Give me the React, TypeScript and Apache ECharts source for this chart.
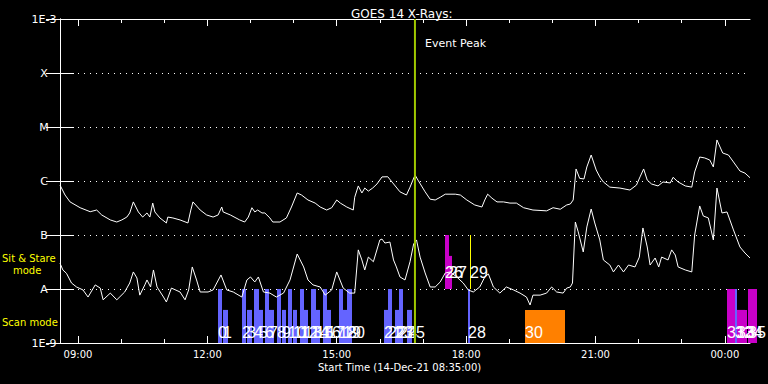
import React, { useEffect, useRef } from 'react';
import * as echarts from 'echarts';

const startClock = '08:35';
const titleText = 'GOES 14 X-Rays:';
const startLabel = 'Start Time (14-Dec-21 08:35:00)';
const yTickLabels = ['1E-9', 'A', 'B', 'C', 'M', 'X', '1E-3'];
const xMajorLabels = ['09:00', '12:00', '15:00', '18:00', '21:00', '00:00'];
const eventPeakTime = '16:48:50';

const longTimes = ['08:35','08:42','08:49','09:03','09:17','09:26','09:33','09:45','09:54','10:01','10:08','10:12','10:17','10:24','10:30','10:36','10:40','10:44','10:47','10:54','11:03','11:05','11:12','11:22','11:33','11:37','11:40','11:50','11:59','12:08','12:15','12:20','12:22','12:32','12:45','12:52','12:57','13:02','13:06','13:10','13:16','13:20','13:27','13:31','13:41','13:50','13:57','14:05','14:11','14:20','14:30','14:37','14:46','14:53','15:00','15:05','15:14','15:23','15:25','15:30','15:35','15:39','15:44','15:50','15:56','16:03','16:11','16:18','16:28','16:37','16:42','16:46','16:49','16:53','17:03','17:10','17:17','17:24','17:31','17:45','17:52','18:01','18:12','18:22','18:26','18:30','18:36','18:43','18:52','19:01','19:10','19:20','19:33','19:52','20:01','20:11','20:20','20:25','20:29','20:33','20:38','20:44','20:48','20:54','21:01','21:06','21:11','21:20','21:34','21:48','21:57','22:02','22:07','22:12','22:18','22:27','22:34','22:44','22:48','22:55','23:05','23:14','23:18','23:25','23:32','23:39','23:44','23:49','23:57','00:05','00:12','00:21','00:28','00:35'];
const longFlux = [8.4e-7,5.5e-7,4.1e-7,3.2e-7,2.7e-7,2.9e-7,2.35e-7,1.9e-7,1.74e-7,1.9e-7,2.15e-7,2.56e-7,4.1e-7,2.67e-7,2.15e-7,2.56e-7,2.15e-7,3.9e-7,2.67e-7,2.07e-7,1.67e-7,2.15e-7,2.07e-7,1.9e-7,1.67e-7,2.9e-7,4.1e-7,2.9e-7,2.35e-7,2.15e-7,2.35e-7,3.3e-7,2.67e-7,2.35e-7,1.9e-7,1.74e-7,2.15e-7,3.2e-7,2.67e-7,2.9e-7,2.56e-7,2.56e-7,2.07e-7,1.74e-7,1.74e-7,2.07e-7,3.3e-7,6.0e-7,5.5e-7,4.45e-7,3.9e-7,3.3e-7,2.9e-7,3.2e-7,4.45e-7,3.9e-7,3.3e-7,2.9e-7,5.0e-7,8.1e-7,6.0e-7,7.4e-7,6.5e-7,7.4e-7,8.8e-7,1.19e-6,1.2e-6,9.2e-7,6.3e-7,5.5e-7,7.7e-7,1.04e-6,1.29e-6,1.04e-6,6.3e-7,4.6e-7,4.45e-7,5.0e-7,5.7e-7,5.7e-7,5.5e-7,4.45e-7,3.6e-7,3.3e-7,4.45e-7,5.7e-7,4.8e-7,4.1e-7,4.1e-7,3.9e-7,3.9e-7,3.2e-7,2.9e-7,2.8e-7,3.2e-7,3.0e-7,3.6e-7,3.75e-7,4.45e-7,1.67e-6,1.12e-6,1.09e-6,1.82e-6,3.03e-6,1.6e-6,1.19e-6,9.6e-7,7.7e-7,7.4e-7,6.8e-7,8.4e-7,1.19e-6,1.67e-6,1.04e-6,8.8e-7,8.1e-7,9.6e-7,9.2e-7,1.17e-6,9.6e-7,8.1e-7,7.7e-7,1.47e-6,2.78e-6,2.67e-6,2.45e-6,1.82e-6,5.75e-6,3.3e-6,3.03e-6,2.25e-6,1.53e-6,1.4e-6,1.15e-6];

const shortTimes = ['08:35','08:39','08:44','08:51','08:58','09:07','09:14','09:24','09:31','09:35','09:45','09:54','10:05','10:12','10:17','10:22','10:26','10:33','10:36','10:41','10:45','10:50','10:59','11:03','11:10','11:22','11:29','11:34','11:39','11:45','11:50','12:01','12:08','12:19','12:27','12:36','12:48','12:55','13:00','13:06','13:11','13:18','13:27','13:36','13:46','13:55','14:05','14:14','14:20','14:27','14:37','14:44','14:53','15:00','15:09','15:18','15:25','15:30','15:35','15:39','15:44','15:51','16:00','16:03','16:07','16:14','16:19','16:23','16:28','16:35','16:42','16:47','16:51','16:56','17:03','17:10','17:17','17:24','17:31','17:38','17:47','17:56','18:03','18:10','18:19','18:26','18:31','18:38','18:47','18:56','19:06','19:15','19:24','19:29','19:33','19:43','19:52','19:59','20:06','20:15','20:20','20:25','20:28','20:32','20:36','20:43','20:48','20:54','20:59','21:06','21:11','21:20','21:25','21:32','21:39','21:46','21:55','22:01','22:06','22:12','22:16','22:23','22:28','22:32','22:41','22:46','22:51','22:55','23:05','23:14','23:18','23:25','23:30','23:37','23:44','23:49','23:56','00:03','00:12','00:21','00:28','00:35'];
const shortFlux = [3.0e-8,2.25e-8,1.95e-8,1.29e-8,1.09e-8,9.6e-9,7.1e-9,1.19e-8,1.04e-8,6.3e-9,8.4e-9,6.3e-9,8.8e-9,1.29e-8,2.07e-8,1.6e-8,7.7e-9,1.19e-8,1.47e-8,1.09e-8,2.25e-8,1.09e-8,7.1e-9,5.75e-9,1.04e-8,8.8e-9,6.3e-9,9.6e-9,2.56e-8,1.47e-8,8.8e-9,8.8e-9,9.6e-9,1.82e-8,9.6e-9,8.8e-9,7.1e-9,1.47e-8,1.67e-8,1.35e-8,1.67e-8,8.8e-9,8.4e-9,7.1e-9,8.4e-9,1.47e-8,4.45e-8,2.56e-8,1.47e-8,1.19e-8,1.09e-8,7.7e-9,9.6e-9,2.07e-8,1.04e-8,8.4e-9,8.4e-9,5.3e-8,3.45e-8,2.25e-8,3.9e-8,3.2e-8,8.1e-8,8.4e-8,7.1e-8,7.4e-8,3.45e-8,2.56e-8,1.67e-8,1.47e-8,3.2e-8,6.8e-8,8.1e-8,3.9e-8,1.98e-8,1.09e-8,1.09e-8,1.35e-8,1.98e-8,2.07e-8,1.67e-8,1.29e-8,9.6e-9,8.8e-9,1.09e-8,1.67e-8,1.9e-8,1.09e-8,8.4e-9,1.09e-8,9.6e-9,8.4e-9,7.1e-9,5.05e-9,7.7e-9,7.7e-9,8.4e-9,1.09e-8,8.8e-9,8.4e-9,1.04e-8,1.09e-8,1.29e-8,1.74e-7,1.14e-7,4.85e-8,1.41e-7,3.03e-7,1.67e-7,8.1e-8,3.45e-8,2.78e-8,2.07e-8,2.78e-8,2.07e-8,2.78e-8,2.56e-8,3.9e-8,1.35e-7,6.0e-8,2.78e-8,3.75e-8,2.56e-8,3.9e-8,3.45e-8,5.3e-8,4.26e-8,2.56e-8,2.25e-8,2.07e-8,1.0e-7,3.45e-7,2.25e-7,2.07e-7,8.1e-8,7.4e-7,2.56e-7,2.67e-7,1.24e-7,6.0e-8,4.64e-8,3.75e-8];

// observations (IRIS-like): id, start, end, top flux, mode, colour name
const obsIds = [0,1,2,3,4,5,6,7,8,9,10,11,12,13,14,15,16,17,18,19,20,21,22,23,24,25,26,27,28,29,30,31,32,33,34,35];
const obsStart = ['12:15:12','12:21:24','12:48:36','12:54:48','13:04:54','13:11:30','13:20:12','13:26:12','13:37:18','13:43:24','13:52:36','13:58:48','14:08:54','14:14:54','14:24:12','14:30:48','14:40:30','14:46:06','15:03:36','15:09:12','15:14:42','16:05:48','16:11:48','16:21:06','16:27:06','16:37:24','17:30:36','17:36:12','18:03:06','18:05:24','19:21:54','00:02:36','00:14:06','00:17:18','00:28:00','00:32:12'];
const obsEnd = ['12:21:24','12:27:48','12:54:48','13:01:12','13:11:30','13:17:24','13:26:12','13:32:42','13:43:24','13:49:24','13:58:48','14:04:42','14:14:54','14:21:00','14:30:48','14:36:42','14:46:06','14:52:00','15:09:12','15:14:42','15:22:12','16:11:48','16:17:18','16:27:06','16:32:36','16:44:18','17:36:12','17:39:54','18:06:24','18:06:12','20:17:36','00:14:06','00:17:18','00:28:00','00:30:48','00:44:18'];
const obsTop = [1e-8,4.1e-9,1e-8,4.1e-9,1e-8,4.1e-9,1e-8,4.1e-9,1e-8,4.1e-9,1e-8,4.1e-9,1e-8,4.1e-9,1e-8,4.1e-9,1e-8,4.1e-9,1e-8,4.1e-9,1e-8,4.1e-9,1e-8,4.1e-9,1e-8,4.1e-9,1e-7,4.1e-8,1e-8,1e-7,4.1e-9,1e-8,1e-8,4.1e-9,4.1e-9,1e-8];
const obsMode = ['scan','scan','scan','scan','scan','scan','scan','scan','scan','scan','scan','scan','scan','scan','scan','scan','scan','scan','scan','scan','scan','scan','scan','scan','scan','scan','sit','sit','scan','sit','scan','scan','scan','scan','scan','scan'];
const obsColour = ['blue','blue','blue','blue','blue','blue','blue','blue','blue','blue','blue','blue','blue','blue','blue','blue','blue','blue','blue','blue','blue','blue','blue','blue','blue','blue','magenta','magenta','blue','yellow','orange','magenta','blue','magenta','magenta','magenta'];

const palette: Record<string, string> = {
  blue: '#6464ff',
  magenta: '#c800c8',
  orange: '#ff8000',
  yellow: '#ffff00',
};

const START_MIN = (() => {
  const p = startClock.split(':').map(Number);
  return p[0] * 60 + p[1];
})();

function toMin(s: string): number {
  const p = s.split(':').map(Number);
  let m = p[0] * 60 + p[1] + (p[2] || 0) / 60;
  if (p[0] < 8) m += 1440;
  return m - START_MIN;
}

const FONT = '"DejaVu Sans", sans-serif';

export default function App() {
  const ref = useRef<HTMLDivElement>(null);

  useEffect(() => {
    document.body.style.margin = '0';
    document.body.style.background = '#000';
    if (!ref.current) return;
    const chart = echarts.init(ref.current, undefined, { renderer: 'svg' });

    const majorVals = xMajorLabels.map(toMin);
    const minorVals: number[] = [];
    for (let v = majorVals[0]; v <= majorVals[majorVals.length - 1] + 0.01; v += 60) minorVals.push(v);

    const obsData = obsIds.map((id, i) => [
      toMin(obsStart[i]),
      toMin(obsEnd[i]),
      obsTop[i],
      obsMode[i] === 'sit' ? 1e-8 : 1e-9,
    ]);

    const xBase = (pos: 'top' | 'bottom') => ({
      type: 'value',
      gridIndex: 0,
      min: 0,
      max: 960,
      position: pos,
      offset: 0,
      splitLine: { show: false },
    });

    const option: any = {
      animation: false,
      backgroundColor: '#000',
      title: {
        text: titleText,
        left: 346,
        top: 3,
        textStyle: { color: '#fff', fontSize: 12, fontWeight: 'normal', fontFamily: FONT },
      },
      grid: { left: 60, top: 19, width: 690, height: 324, containLabel: false, outerBoundsMode: 'none' },
      xAxis: [
        {
          ...xBase('bottom'),
          axisLine: { show: true, lineStyle: { color: '#fff', width: 1 } },
          axisTick: { show: true, inside: true, length: 7, customValues: majorVals, lineStyle: { color: '#fff' } },
          axisLabel: {
            show: true,
            customValues: majorVals,
            color: '#fff',
            fontSize: 10,
            fontFamily: FONT,
            margin: 6,
            formatter: (v: number) => {
              const i = majorVals.findIndex((m) => Math.abs(m - v) < 0.5);
              return i >= 0 ? xMajorLabels[i] : '';
            },
          },
        },
        {
          ...xBase('bottom'),
          axisLine: { show: false },
          axisTick: { show: true, inside: true, length: 4, customValues: minorVals, lineStyle: { color: '#fff' } },
          axisLabel: { show: false },
        },
        {
          ...xBase('top'),
          axisLine: { show: true, lineStyle: { color: '#fff', width: 1 } },
          axisTick: { show: true, inside: true, length: 7, customValues: majorVals, lineStyle: { color: '#fff' } },
          axisLabel: { show: false },
        },
        {
          ...xBase('top'),
          axisLine: { show: false },
          axisTick: { show: true, inside: true, length: 4, customValues: minorVals, lineStyle: { color: '#fff' } },
          axisLabel: { show: false },
        },
      ],
      yAxis: [
        {
          type: 'log',
          logBase: 10,
          min: 1e-9,
          max: 1e-3,
          splitNumber: 6,
          position: 'left',
          axisLine: { show: true, lineStyle: { color: '#fff' } },
          axisTick: { show: true, inside: true, length: 14, lineStyle: { color: '#fff' } },
          axisLabel: {
            color: '#fff',
            fontSize: 11,
            fontFamily: FONT,
            margin: 16,
            align: 'center',
            showMinLabel: true,
            showMaxLabel: true,
            formatter: (v: number) => {
              const i = Math.round(Math.log10(v)) + 9;
              return yTickLabels[i] ?? '';
            },
          },
          splitLine: { show: true, lineStyle: { color: '#fff', type: [1, 5], width: 1 } },
        },
        {
          type: 'log',
          logBase: 10,
          min: 1e-9,
          max: 1e-3,
          splitNumber: 6,
          position: 'right',
          z: 10,
          axisLine: { show: true, lineStyle: { color: '#fff' } },
          axisTick: { show: true, inside: true, length: 14, lineStyle: { color: '#fff' } },
          axisLabel: { show: false },
          splitLine: { show: false },
        },
      ],
      graphic: [
        { type: 'text', left: 2, top: 253, style: { text: 'Sit & Stare', fill: '#ffff00', font: '10px ' + FONT } },
        { type: 'text', left: 13, top: 265, style: { text: 'mode', fill: '#ffff00', font: '10px ' + FONT } },
        { type: 'text', left: 2, top: 317, style: { text: 'Scan mode', fill: '#ffff00', font: '10px ' + FONT } },
        { type: 'text', left: 318, top: 362, style: { text: startLabel, fill: '#fff', font: '10px ' + FONT } },
      ],
      series: [
        {
          type: 'custom',
          name: 'obs',
          xAxisIndex: 0,
          yAxisIndex: 0,
          z: 1,
          clip: false,
          data: obsData,
          encode: { x: [0, 1], y: [2, 3] },
          renderItem: (params: any, api: any) => {
            const i = params.dataIndex;
            const p0 = api.coord([api.value(0), api.value(2)]);
            const p1 = api.coord([api.value(1), api.value(3)]);
            const w = Math.max(1, p1[0] - p0[0]);
            return {
              type: 'rect',
              shape: { x: Math.round(p0[0]), y: p0[1], width: Math.max(1, Math.round(w)), height: p1[1] - p0[1] },
              style: { fill: palette[obsColour[i]] },
            };
          },
        },
        {
          type: 'line',
          name: 'long',
          xAxisIndex: 0,
          yAxisIndex: 0,
          z: 3,
          showSymbol: false,
          symbol: 'none',
          lineStyle: { color: '#fff', width: 1 },
          data: longTimes.map((t, i) => [toMin(t), longFlux[i]]),
        },
        {
          type: 'line',
          name: 'short',
          xAxisIndex: 0,
          yAxisIndex: 0,
          z: 3,
          showSymbol: false,
          symbol: 'none',
          lineStyle: { color: '#fff', width: 1 },
          data: shortTimes.map((t, i) => [toMin(t), shortFlux[i]]),
        },
        {
          type: 'custom',
          name: 'obsLabels',
          xAxisIndex: 0,
          yAxisIndex: 0,
          z: 4,
          clip: false,
          data: obsData,
          encode: { x: [0, 1], y: [2, 3] },
          renderItem: (params: any, api: any) => {
            const i = params.dataIndex;
            const p = api.coord([api.value(0), api.value(3)]);
            const y = obsMode[i] === 'sit' ? p[1] - 16.5 : p[1] - 10.5;
            return {
              type: 'text',
              x: Math.round(p[0]),
              y,
              style: {
                text: String(obsIds[i]),
                fill: '#fff',
                fontSize: 16,
                fontFamily: '"Liberation Sans", sans-serif',
                align: 'left',
                verticalAlign: 'middle',
              },
            };
          },
        },
        {
          type: 'custom',
          name: 'event',
          xAxisIndex: 0,
          yAxisIndex: 0,
          z: 5,
          clip: false,
          data: [[toMin(eventPeakTime), 1e-6]],
          encode: { x: 0, y: 1 },
          renderItem: (params: any, api: any) => {
            const top = api.coord([api.value(0), 1e-3]);
            const bot = api.coord([api.value(0), 1e-9]);
            return {
              type: 'group',
              children: [
                {
                  type: 'line',
                  shape: { x1: top[0], y1: top[1], x2: bot[0], y2: bot[1] },
                  style: { stroke: '#a0c800', lineWidth: 2 },
                },
                {
                  type: 'text',
                  x: top[0] + 10,
                  y: top[1] + 24,
                  style: { text: 'Event Peak', fill: '#fff', fontSize: 11, fontFamily: FONT, align: 'left', verticalAlign: 'middle' },
                },
              ],
            };
          },
        },
      ],
    };

    chart.setOption(option);
    return () => chart.dispose();
  }, []);

  return <div ref={ref} style={{ width: 768, height: 384, background: '#000' }} />;
}
